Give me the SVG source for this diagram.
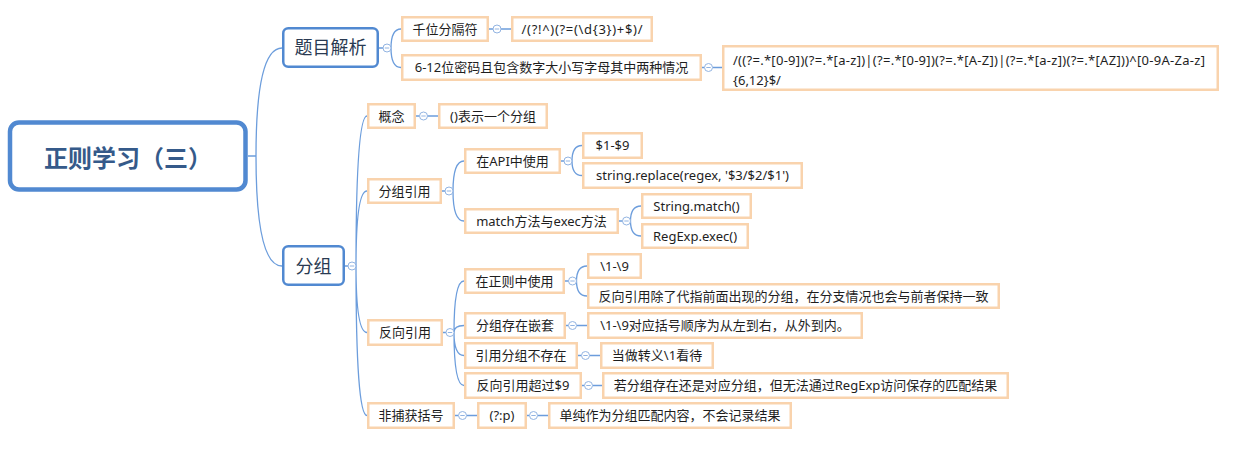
<svg xmlns="http://www.w3.org/2000/svg" width="1242" height="452" viewBox="0 0 1242 452">
<style>
  text { font-family: "Noto Sans", "Noto Sans CJK SC", sans-serif; }
  .t { font-size: 13px; fill: #1e1e1e; text-anchor: middle; }
  .tl { font-size: 13px; fill: #1e1e1e; }
  .b { fill: #ffffff; stroke: #f9d3ad; stroke-width: 2.5; }
  .l1 { fill: #ffffff; stroke: #5189d1; stroke-width: 2.5; }
  .l1t { font-size: 18px; fill: #2a3a52; text-anchor: middle; }
  .root { fill: #ffffff; stroke: #5189d1; stroke-width: 4.5; }
  .roott { font-family: "Noto Sans CJK SC", sans-serif; font-size: 24px; font-weight: bold; fill: #355a8a; text-anchor: middle; }
  .c { fill: none; stroke: #6c9ddc; stroke-width: 1.3; }
  .cc { fill: #ffffff; stroke: #92b4e2; stroke-width: 1; }
  .cm { stroke: #92b4e2; stroke-width: 1; }
</style>
<defs>
  <g id="col"><circle class="cc" cx="0" cy="0" r="4"/><line class="cm" x1="-2.2" y1="0" x2="2.2" y2="0"/></g>
</defs>
<g id="connectors">
  <path class="c" d="M248 156 H256 M256 156 Q256 48 282 48 M256 156 Q256 266 282 266"/>
  <path class="c" d="M379 48 H383 M391 48 Q391 29 401 29 M391 48 Q391 67.5 401 67.5"/>
  <path class="c" d="M489 29 H493 M501 29 H511"/>
  <path class="c" d="M702 67.5 H704.5 M712.5 67.5 H722"/>
  <path class="c" d="M345 266 H348 M356 266 Q356 116 367 116 M356 266 Q356 191 367 191 M356 266 Q356 332.5 367 332.5 M356 266 Q356 415.5 367 415.5"/>
  <path class="c" d="M416 116 H419.5 M427.5 116 H438"/>
  <path class="c" d="M442 191 H445 M453 191 Q453 161 464 161 M453 191 Q453 221 464 221"/>
  <path class="c" d="M561 161 H564 M572 161 Q572 145.5 582 145.5 M572 161 Q572 175.5 582 175.5"/>
  <path class="c" d="M619 221 H622.5 M630.5 221 Q630.5 206 641 206 M630.5 221 Q630.5 236 641 236"/>
  <path class="c" d="M443 332.5 H446 M454 332.5 Q454 281 464 281 M454 332.5 Q454 325.5 464 325.5 M454 332.5 Q454 355.5 464 355.5 M454 332.5 Q454 385.5 464 385.5"/>
  <path class="c" d="M565 281 H568.5 M576.5 281 Q576.5 266 587 266 M576.5 281 Q576.5 296 587 296"/>
  <path class="c" d="M566 325.5 H568.5 M576.5 325.5 H587"/>
  <path class="c" d="M578 355.5 H581.5 M589.5 355.5 H600"/>
  <path class="c" d="M582 385.5 H584.5 M592.5 385.5 H602"/>
  <path class="c" d="M455 415.5 H458.5 M466.5 415.5 H477"/>
  <path class="c" d="M527 415.5 H529.5 M537.5 415.5 H548"/>
  <use href="#col" x="387" y="48"/>
  <use href="#col" x="497" y="29"/>
  <use href="#col" x="708.5" y="67.5"/>
  <use href="#col" x="352" y="266"/>
  <use href="#col" x="423.5" y="116"/>
  <use href="#col" x="449" y="191"/>
  <use href="#col" x="568" y="161"/>
  <use href="#col" x="626.5" y="221"/>
  <use href="#col" x="450" y="332.5"/>
  <use href="#col" x="572.5" y="281"/>
  <use href="#col" x="572.5" y="325.5"/>
  <use href="#col" x="585.5" y="355.5"/>
  <use href="#col" x="588.5" y="385.5"/>
  <use href="#col" x="462.5" y="415.5"/>
  <use href="#col" x="533.5" y="415.5"/>
</g>
<g id="root"><rect class="root" x="10" y="122.5" width="235.5" height="67" rx="9"/><text class="roott" x="128" y="167">正则学习（三）</text></g>
<g id="n-timu"><rect class="l1" x="283.25" y="28.25" width="94.5" height="38.5" rx="5"/><text class="l1t" x="330.5" y="54.3">题目解析</text></g>
<g id="n-fenzu"><rect class="l1" x="283.25" y="246.25" width="60.5" height="38.5" rx="5"/><text class="l1t" x="313.5" y="272.8">分组</text></g>
<g id="n-a"><rect class="b" x="402.25" y="17.25" width="85.5" height="23.5"/><text class="t" x="445" y="33.9">千位分隔符</text></g>
<g id="n-b"><rect class="b" x="512.25" y="17.25" width="139.5" height="23.5"/><text class="tl" x="521.5" y="33.9" textLength="121" lengthAdjust="spacing">/(?!^)(?=(\d{3})+$)/</text></g>
<g id="n-c"><rect class="b" x="402.25" y="55.25" width="298.5" height="24.5"/><text class="t" x="551.5" y="72.4">6-12位密码且包含数字大小写字母其中两种情况</text></g>
<g id="n-d"><rect class="b" x="723.25" y="46.25" width="494.5" height="43.5"/><text class="tl" x="733" y="65" textLength="472" lengthAdjust="spacing">/((?=.*[0-9])(?=.*[a-z])|(?=.*[0-9])(?=.*[A-Z])|(?=.*[a-z])(?=.*[AZ]))^[0-9A-Za-z]</text><text class="tl" x="733" y="85">{6,12}$/</text></g>
<g id="n-e"><rect class="b" x="368.25" y="104.25" width="46.5" height="23.5"/><text class="t" x="391.5" y="120.9">概念</text></g>
<g id="n-f"><rect class="b" x="439.25" y="104.25" width="107.5" height="23.5"/><text class="t" x="493" y="120.9">()表示一个分组</text></g>
<g id="n-g"><rect class="b" x="368.25" y="179.25" width="72.5" height="23.5"/><text class="t" x="404.5" y="195.9">分组引用</text></g>
<g id="n-h"><rect class="b" x="465.25" y="149.25" width="94.5" height="23.5"/><text class="t" x="512.5" y="165.9">在API中使用</text></g>
<g id="n-i"><rect class="b" x="583.25" y="133.25" width="58.5" height="24.5"/><text class="t" x="612.5" y="150.4">$1-$9</text></g>
<g id="n-j"><rect class="b" x="583.25" y="163.25" width="218.5" height="24.5"/><text class="t" x="692.5" y="180.4">string.replace(regex, '$3/$2/$1')</text></g>
<g id="n-k"><rect class="b" x="465.25" y="209.25" width="152.5" height="23.5"/><text class="t" x="541.5" y="225.9">match方法与exec方法</text></g>
<g id="n-l"><rect class="b" x="642.25" y="194.25" width="108.5" height="23.5"/><text class="t" x="696.5" y="210.9">String.match()</text></g>
<g id="n-m"><rect class="b" x="642.25" y="224.25" width="105.5" height="23.5"/><text class="t" x="695" y="240.9">RegExp.exec()</text></g>
<g id="n-n"><rect class="b" x="368.25" y="320.25" width="73.5" height="24.5"/><text class="t" x="405" y="337.4">反向引用</text></g>
<g id="n-o"><rect class="b" x="465.25" y="269.25" width="98.5" height="23.5"/><text class="t" x="514.5" y="285.9">在正则中使用</text></g>
<g id="n-p"><rect class="b" x="588.25" y="254.25" width="52.5" height="23.5"/><text class="t" x="614.5" y="270.9">\1-\9</text></g>
<g id="n-q"><rect class="b" x="588.25" y="284.25" width="410.5" height="23.5"/><text class="t" x="793.5" y="300.9">反向引用除了代指前面出现的分组，在分支情况也会与前者保持一致</text></g>
<g id="n-r"><rect class="b" x="465.25" y="313.25" width="99.5" height="24.5"/><text class="t" x="515" y="330.4">分组存在嵌套</text></g>
<g id="n-s"><rect class="b" x="588.25" y="313.25" width="273.5" height="24.5"/><text class="t" x="725" y="330.4">\1-\9对应括号顺序为从左到右，从外到内。</text></g>
<g id="n-t"><rect class="b" x="465.25" y="343.25" width="111.5" height="24.5"/><text class="t" x="521" y="360.4">引用分组不存在</text></g>
<g id="n-u"><rect class="b" x="601.25" y="343.25" width="111.5" height="24.5"/><text class="t" x="657" y="360.4">当做转义\1看待</text></g>
<g id="n-v"><rect class="b" x="465.25" y="373.25" width="115.5" height="24.5"/><text class="t" x="523" y="390.4">反向引用超过$9</text></g>
<g id="n-w"><rect class="b" x="603.25" y="373.25" width="404.5" height="24.5"/><text class="t" x="805.5" y="390.4">若分组存在还是对应分组，但无法通过RegExp访问保存的匹配结果</text></g>
<g id="n-x"><rect class="b" x="368.25" y="403.25" width="85.5" height="24.5"/><text class="t" x="411" y="420.4">非捕获括号</text></g>
<g id="n-y"><rect class="b" x="478.25" y="403.25" width="47.5" height="24.5"/><text class="t" x="502" y="420.4">(?:p)</text></g>
<g id="n-z"><rect class="b" x="549.25" y="403.25" width="241.5" height="24.5"/><text class="t" x="670" y="420.4">单纯作为分组匹配内容，不会记录结果</text></g>
</svg>
